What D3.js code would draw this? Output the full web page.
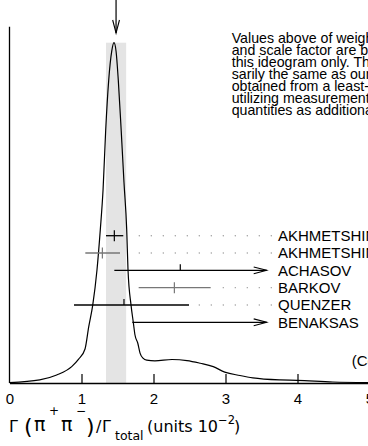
<!DOCTYPE html>
<html><head><meta charset="utf-8">
<script src="https://cdn.jsdelivr.net/npm/d3@7"></script>
<style>
html,body{margin:0;padding:0;background:#fff;overflow:hidden;}
svg{display:block;}
</style></head>
<body>
<svg id="chart" width="368" height="446"></svg>
<script>
// ---- data ----
const labels = ["AKHMETSHIN","AKHMETSHIN","ACHASOV","BARKOV","QUENZER","BENAKSAS"];
const values = [1.456, 1.29, 2.372, 2.29, 1.59, 3.9];
const lowers = [1.34, 1.053, 1.456, 1.794, 0.896, 1.706];
const uppers = [1.58, 1.535, 3.9, 2.794, 2.493, 6.1];
const average = 1.48;
const averageErr = 0.14;
const tickValues = [0, 1, 2, 3, 4, 5];
const curveX = [0, 0.42, 0.655, 0.864, 0.96, 1.049, 1.10, 1.156, 1.215, 1.261, 1.30, 1.336, 1.378, 1.42, 1.451, 1.48, 1.511, 1.551, 1.59, 1.628, 1.646, 1.688, 1.719, 1.743, 1.781, 1.813, 1.854, 1.906, 2.02, 2.257, 2.465, 2.65, 2.83, 2.99, 3.20, 3.38, 3.757, 3.993, 4.49, 5.0];
const curveY = [0.001, 0.009, 0.0235, 0.048, 0.07, 0.1, 0.165, 0.229, 0.332, 0.45, 0.57, 0.743, 0.89, 0.975, 1.0, 0.975, 0.89, 0.743, 0.59, 0.45, 0.332, 0.229, 0.179, 0.141, 0.1175, 0.088, 0.073, 0.067, 0.065, 0.069, 0.066, 0.058, 0.048, 0.032, 0.022, 0.015, 0.009, 0.008, 0.003, 0.0015];
const noteLines = ["Values above of weighted average, error,","and scale factor are based upon the data in","this ideogram only.  They are not neces-","sarily the same as our \u2018best\u2019 values,","obtained from a least-squares constrained fit","utilizing measurements of other (related)","quantities as additional information."];
const clText = "(Confidence Level = 0.012)";

// ---- styles (kept apart from data) ----
const barColors = ["#000","#777","#000","#777","#000","#000"];
const tickStyles = ["full","full","up","full","up","full"];

const svg = d3.select("#chart");
const sans = "'Liberation Sans', Arial, Helvetica, sans-serif";
const dejavu = "'DejaVu Sans', sans-serif";

const x = d3.scaleLinear().domain([0, 5]).range([9.5, 369.5]);
const y = d3.scaleLinear().domain([0, 1]).range([383, 42.7]);
const rowY = d3.scalePoint().domain(d3.range(labels.length)).range([235.7, 322.3]);
const arrowTip = 266.7;
const labelX = 278;

// shaded band for weighted average
svg.append("rect")
  .attr("x", x(average - averageErr)).attr("y", y(1))
  .attr("width", x(average + averageErr) - x(average - averageErr))
  .attr("height", y(0) - y(1))
  .attr("fill", "#e4e4e4");

// ideogram curve
const line = d3.line().x((d,i)=>x(curveX[i])).y((d,i)=>y(curveY[i])).curve(d3.curveMonotoneX);
svg.append("path").datum(curveX).attr("d", line)
  .attr("fill","none").attr("stroke","#000").attr("stroke-width",1.2);

// top arrow at weighted average
const ax = x(average);
svg.append("line").attr("x1",ax).attr("x2",ax).attr("y1",0).attr("y2",33)
  .attr("stroke","#000").attr("stroke-width",1.2);
svg.append("path").attr("d",`M${ax-3.4},${20}L${ax},${33}L${ax+3.4},${20}`)
  .attr("fill","none").attr("stroke","#000").attr("stroke-width",1.1);

// axes
const xAxis = d3.axisBottom(x).tickValues(tickValues).tickSize(-9).tickSizeOuter(0).tickPadding(10).tickFormat(d3.format("d"));
const gx = svg.append("g").attr("transform",`translate(0,${y(0)})`).call(xAxis);
gx.select(".domain").attr("stroke","#000").attr("stroke-width",1.3);
gx.selectAll(".tick line").attr("stroke","#000").attr("stroke-width",1.2);
gx.selectAll(".tick text").attr("font-family",sans).attr("font-size",15).attr("fill","#000");
gx.selectAll(".tick").filter(d=>d===0).select("line").remove();

svg.append("line").attr("x1",x(0)).attr("x2",x(0)).attr("y1",y(1.047)).attr("y2",y(0))
  .attr("stroke","#000").attr("stroke-width",1.3);

// measurements
const dotGrid = d3.range(139.3, 272, 12);
labels.forEach((lab, i) => {
  const ry = rowY(i);
  const col = barColors[i];
  const x0 = x(lowers[i]);
  const hasArrow = x(uppers[i]) > arrowTip;
  const x1 = hasArrow ? arrowTip : x(uppers[i]);
  svg.append("line").attr("x1",x0).attr("x2",x1).attr("y1",ry).attr("y2",ry)
    .attr("stroke",col).attr("stroke-width",1.3);
  if (hasArrow) {
    svg.append("path").attr("d",`M${arrowTip-13},${ry-3.4}L${arrowTip},${ry}L${arrowTip-13},${ry+3.4}`)
      .attr("fill","none").attr("stroke",col).attr("stroke-width",1.1);
  } else {
    svg.append("g").selectAll("circle").data(dotGrid.filter(g => g > x1 + 6))
      .join("circle").attr("cx",d=>d).attr("cy",ry).attr("r",0.7).attr("fill","#999");
  }
  const vx = x(values[i]);
  if (vx < arrowTip - 13) {
    const t = tickStyles[i];
    svg.append("line").attr("x1",vx).attr("x2",vx)
      .attr("y1", t === "up" ? ry - 6 : ry - 5.5).attr("y2", t === "up" ? ry : ry + 5.5)
      .attr("stroke",col).attr("stroke-width",1.2);
  }
  svg.append("text").attr("x",labelX).attr("y",ry+5.3).text(lab)
    .attr("font-family",sans).attr("font-size",15).attr("fill","#000");
});

// note text
svg.append("g").selectAll("text").data(noteLines).join("text")
  .attr("x",231.7).attr("y",(d,i)=>42.7 + i*12.1).text(d=>d)
  .attr("font-family",sans).attr("font-size",14.2).attr("fill","#000");

svg.append("text").attr("x",351.7).attr("y",365.5).text(clText)
  .attr("font-family",sans).attr("font-size",15).attr("fill","#000");

// x-axis title
const title = svg.append("text").attr("font-family",dejavu).attr("fill","#000");
const parts = [
  ["\u0393", 9, 431.7, 16],
  ["(", 24, 434, 22],
  ["\u03C0", 34, 431, 19],
  ["+", 49, 415, 12],
  ["\u03C0", 61, 431, 19],
  ["\u2212", 76, 415, 12],
  [")", 86, 434, 22],
  ["/", 96, 431.7, 16],
  ["\u0393", 102, 431.7, 16],
  ["total", 115, 439.5, 12.5],
  ["(units 10", 147, 431.7, 16],
  ["\u22122", 218, 423.5, 11.5],
  [")", 234, 431.7, 16]
];
parts.forEach(([t,px,py,s]) => title.append("tspan").attr("x",px).attr("y",py).attr("font-size",s).text(t));
</script>
</body></html>
